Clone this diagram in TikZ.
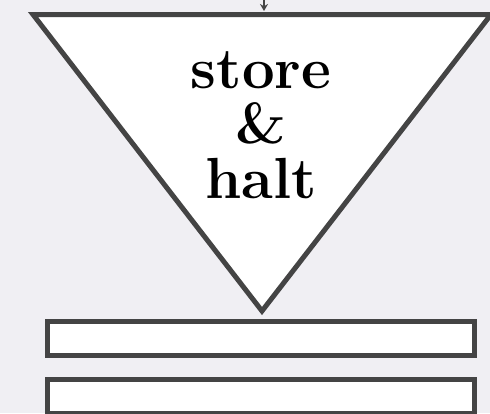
\documentclass[tikz,border=0pt]{standalone}
\usetikzlibrary{arrows.meta}
\definecolor{bgc}{RGB}{240,239,243}
\definecolor{edge}{RGB}{68,68,68}
\tikzset{
  shapeline/.style={draw=edge, line width=5pt, fill=white, line join=miter},
  barbox/.style={draw=edge, line width=5pt, fill=white, inner sep=0pt, outer sep=0pt, minimum width=427pt},
  lbl/.style={align=center, font=\fontsize{58}{55}\selectfont\bfseries, inner sep=0pt},
  feed/.style={draw=edge, line width=2pt, -{Stealth[length=7pt,width=8pt]}}
}
\begin{document}
\begin{tikzpicture}[x=1pt,y=-1pt]
\fill[bgc] (0,0) rectangle (490,413);
\useasboundingbox (0,0) rectangle (490,413);
\coordinate (tl) at (33,14.5);
\coordinate (tr) at (491,14.5);
\coordinate (ap) at (262,311);
\draw[shapeline] (tl) -- (tr) -- (ap) -- cycle;
\node[lbl] (txt) at (261,125) {store\\\&\\halt};
\node[barbox, minimum height=34pt] (r1) at (261,338.5) {};
\node[barbox, minimum height=34pt] (r2) at (261,396.5) {};
\coordinate (src) at (264,0);
\coordinate (dst) at (264,11);
\draw[feed] (src) -- (dst);
\end{tikzpicture}
\end{document}
